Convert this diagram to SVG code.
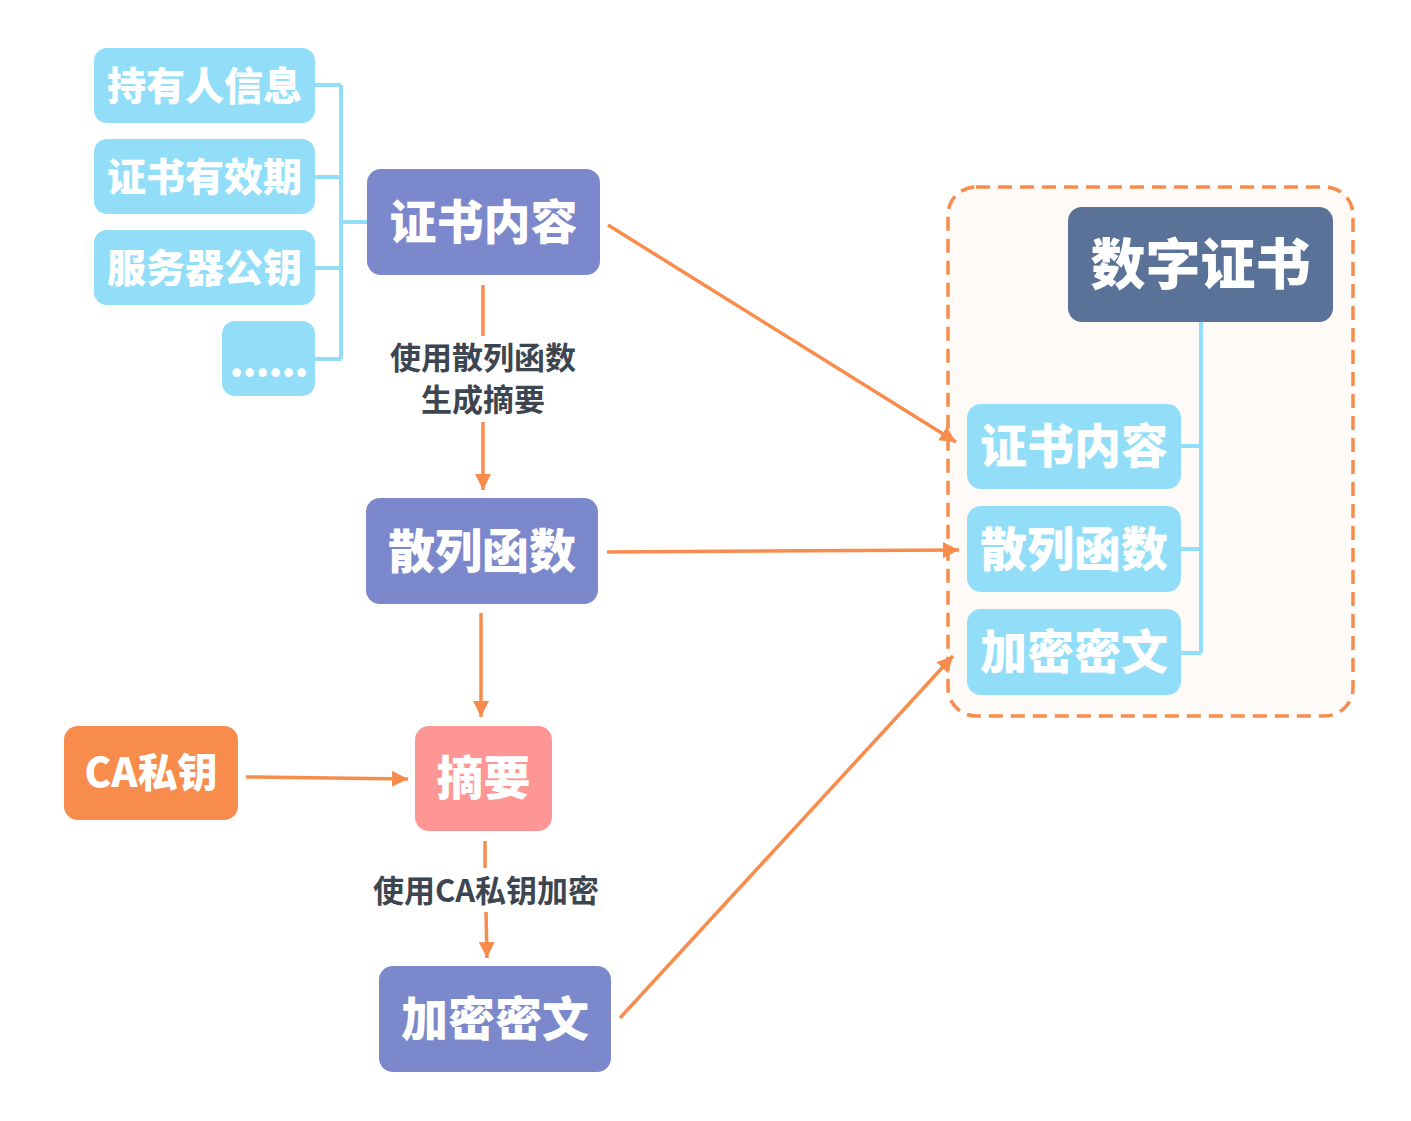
<svg xmlns="http://www.w3.org/2000/svg" width="1411" height="1121" viewBox="0 0 1411 1121">
<defs>
<style>
.t{font-family:"Noto Sans CJK SC","Noto Sans",sans-serif;font-weight:900;fill:#fff;text-anchor:middle}
.lab{font-family:"Noto Sans CJK SC","Noto Sans",sans-serif;font-weight:bold;fill:#3D4650;text-anchor:middle;font-size:31px}
.lb{fill:#92DEF8}
.pu{fill:#7B88CB}
.tree{stroke:#92DEF8;stroke-width:4;fill:none}
.ar{stroke:#F78C4C;stroke-width:3.5;fill:none}
.ah{marker-end:url(#ah)}
</style>
<marker id="ah" markerUnits="userSpaceOnUse" markerWidth="18" markerHeight="16" refX="16" refY="8" orient="auto">
<path d="M0,0 L16,8 L0,16 z" fill="#F78C4C"/>
</marker>
</defs>
<rect width="1411" height="1121" fill="#fff"/>

<g id="container">
<rect x="948" y="187" width="405" height="529" rx="28" fill="#FEFAF7" stroke="#F78C4C" stroke-width="3.5" stroke-dasharray="14 8"/>
</g>

<g id="connectors">
<path class="tree" d="M315,85 H341 M315,177 H341 M315,268 H341 M315,359 H341 M341,85 V359 M341,222 H367"/>
<path class="tree" d="M1201,322 V653 M1181,446 H1201 M1181,549 H1201 M1181,653 H1201"/>
<line class="ar" x1="483" y1="285" x2="483" y2="336"/>
<line class="ar ah" x1="483" y1="422" x2="483" y2="490"/>
<line class="ar ah" x1="481" y1="613" x2="481" y2="717"/>
<line class="ar ah" x1="246" y1="777" x2="408" y2="779"/>
<line class="ar" x1="485" y1="841" x2="485" y2="868"/>
<line class="ar ah" x1="486" y1="912" x2="487" y2="958"/>
<line class="ar ah" x1="608" y1="225" x2="956" y2="442"/>
<line class="ar ah" x1="607" y1="552" x2="959" y2="550"/>
<line class="ar ah" x1="620" y1="1018" x2="953" y2="656"/>
</g>

<g id="label1">
<text class="lab" x="483" y="369">使用散列函数</text>
<text class="lab" x="483" y="411">生成摘要</text>
</g>
<g id="label2">
<text class="lab" x="486" y="902">使用CA私钥加密</text>
</g>

<g id="n-holder"><rect class="lb" x="94" y="48" width="221" height="75" rx="13"/><text class="t" x="204.5" y="99.5" font-size="39">持有人信息</text></g>
<g id="n-valid"><rect class="lb" x="94" y="139" width="221" height="75" rx="13"/><text class="t" x="204.5" y="190.5" font-size="39">证书有效期</text></g>
<g id="n-pubkey"><rect class="lb" x="94" y="230" width="221" height="75" rx="13"/><text class="t" x="204.5" y="281.5" font-size="39">服务器公钥</text></g>
<g id="n-more"><rect class="lb" x="222" y="321" width="93" height="75" rx="13"/><text class="t" x="268.5" y="376" font-size="40" letter-spacing="-1">......</text></g>

<g id="n-content"><rect class="pu" x="367" y="169" width="233" height="106" rx="14"/><text class="t" x="483.5" y="239" font-size="47">证书内容</text></g>
<g id="n-hash"><rect class="pu" x="366" y="498" width="232" height="106" rx="14"/><text class="t" x="482" y="568" font-size="47">散列函数</text></g>
<g id="n-digest"><rect x="415" y="726" width="137" height="105" rx="14" fill="#FF9696"/><text class="t" x="483.5" y="795" font-size="47">摘要</text></g>
<g id="n-cakey"><rect x="64" y="726" width="174" height="94" rx="14" fill="#F78C4C"/><text class="t" x="151" y="787" font-size="40" font-weight="bold">CA私钥</text></g>
<g id="n-cipher"><rect class="pu" x="379" y="966" width="232" height="106" rx="14"/><text class="t" x="495" y="1036" font-size="47">加密密文</text></g>

<g id="n-cert"><rect x="1068" y="207" width="265" height="115" rx="14" fill="#5A7198"/><text class="t" x="1200.5" y="284" font-size="55">数字证书</text></g>
<g id="n-c1"><rect class="lb" x="967" y="404" width="214" height="85" rx="14"/><text class="t" x="1074" y="463" font-size="47">证书内容</text></g>
<g id="n-c2"><rect class="lb" x="967" y="506" width="214" height="86" rx="14"/><text class="t" x="1074" y="566" font-size="47">散列函数</text></g>
<g id="n-c3"><rect class="lb" x="967" y="609" width="214" height="86" rx="14"/><text class="t" x="1074" y="669" font-size="47">加密密文</text></g>
</svg>
